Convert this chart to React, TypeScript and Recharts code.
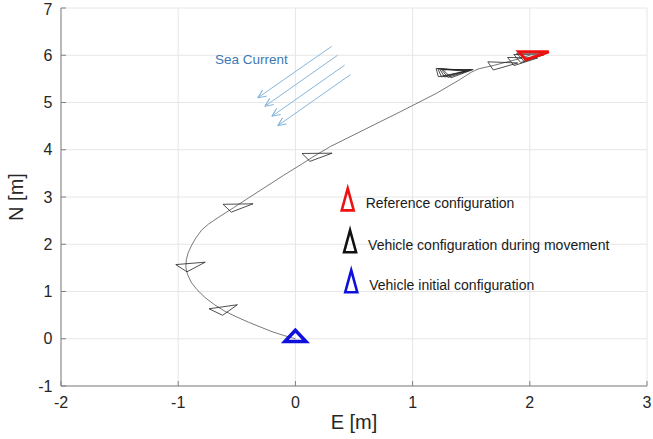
import {
  ComposedChart,
  Line,
  Scatter,
  XAxis,
  YAxis,
  CartesianGrid,
  ReferenceDot,
} from "recharts";

// ---------------------------------------------------------------------------
// Vehicle trajectory in the E/N plane with sea current arrows.
// Values.
// ---------------------------------------------------------------------------

const xTicks = [-2, -1, 0, 1, 2, 3];
const yTicks = [-1, 0, 1, 2, 3, 4, 5, 6, 7];

// travelled path
const pathE = [
  0, -0.1, -0.2, -0.3, -0.4, -0.5, -0.6, -0.69, -0.77, -0.84, -0.89, -0.92,
  -0.935, -0.93, -0.915, -0.885, -0.85, -0.8, -0.74, -0.65, -0.53, -0.4, -0.25,
  -0.1, 0.05, 0.15, 0.3, 0.6, 0.9, 1.2, 1.4, 1.5, 1.56, 1.7, 1.9, 2.0,
];
const pathN = [
  0, 0.07, 0.15, 0.25, 0.35, 0.46, 0.58, 0.72, 0.87, 1.04, 1.2, 1.36,
  1.52, 1.68, 1.82, 1.98, 2.13, 2.3, 2.43, 2.58, 2.77, 2.98, 3.22,
  3.46, 3.69, 3.85, 4.07, 4.44, 4.81, 5.19, 5.48, 5.64, 5.71, 5.79, 5.92, 6.0,
];

// vehicle snapshots during movement (heading in degrees from East)
const moveE = [-0.633, -0.922, -0.527, 0.146, 1.27, 1.29, 1.31, 1.33, 1.35, 1.723, 1.895, 1.95, 1.975];
const moveN = [0.604, 1.525, 2.786, 3.86, 5.64, 5.64, 5.64, 5.635, 5.63, 5.79, 5.886, 5.95, 5.98];
const moveHeading = [40, 32, 23, 22, 6, 10, 14, 18, 22, 15, 18, 19, 20];

const refE = [1.993];
const refN = [6.01];
const refHeading = [20];

const initE = [0];
const initN = [0];
const initHeading = [90];

// sea current arrows (tail -> head)
const currentFromE = [0.31, 0.36, 0.42, 0.47];
const currentFromN = [6.19, 6.0, 5.79, 5.59];
const currentToE = [-0.32, -0.26, -0.2, -0.15];
const currentToN = [5.1, 4.92, 4.71, 4.51];

const legendLabels = [
  "Reference configuration",
  "Vehicle configuration during movement",
  "Vehicle initial configuration",
];
const legendColors = ["#ee1111", "#111111", "#1010dd"];
const legendE = [0.6, 0.62, 0.63];
const legendN = [2.875, 1.99, 1.144];

// vehicle outline (metres, body frame)
const NOSE = 0.18;
const TAIL = 0.06;
const HALF = 0.09;

const W = 653;
const H = 439;
const M = { top: 8, right: 6, left: 0, bottom: 0 };
const Y_AXIS_W = 61;
const X_AXIS_H = 53;
const KX = (W - M.left - M.right - Y_AXIS_W) / 5; // px per metre, E
const KY = (H - M.top - M.bottom - X_AXIS_H) / 8; // px per metre, N
const HEAD = 9;

const FONT = "'Liberation Sans', Arial, Helvetica, sans-serif";

type Pt = { x: number; y: number };

const pathData: Pt[] = pathE.map((x, i) => ({ x, y: pathN[i] }));

function vehicle(e: number, n: number, headingDeg: number): Pt[] {
  const t = (headingDeg * Math.PI) / 180;
  const c = Math.cos(t);
  const s = Math.sin(t);
  return [
    { x: e + NOSE * c, y: n + NOSE * s },
    { x: e - TAIL * c - HALF * s, y: n - TAIL * s + HALF * c },
    { x: e - TAIL * c + HALF * s, y: n - TAIL * s - HALF * c },
  ];
}

function arrow(i: number): Pt[] {
  const s = { x: currentFromE[i], y: currentFromN[i] };
  const t = { x: currentToE[i], y: currentToN[i] };
  const dx = (t.x - s.x) * KX;
  const dy = (t.y - s.y) * KY;
  const len = Math.hypot(dx, dy);
  const ux = dx / len;
  const uy = dy / len;
  const wing = (a: number) => {
    const rx = ux * Math.cos(a) - uy * Math.sin(a);
    const ry = ux * Math.sin(a) + uy * Math.cos(a);
    return { x: t.x - (HEAD * rx) / KX, y: t.y - (HEAD * ry) / KY };
  };
  return [s, t, wing(0.42), t, wing(-0.42)];
}

const legendData = legendLabels.map((label, i) => ({
  x: legendE[i],
  y: legendN[i],
  label,
  color: legendColors[i],
}));

function LegendRow(props: any) {
  const { cx, cy, payload } = props;
  if (cx == null || cy == null) return null;
  const ix = cx - 18;
  const iy = cy - 3.5;
  return (
    <g>
      <path
        d={`M${ix},${iy - 11} L${ix + 6},${iy + 11} L${ix - 6},${iy + 11} Z`}
        fill="none"
        stroke={payload.color}
        strokeWidth={2.6}
        strokeLinejoin="miter"
      />
      <text
        x={cx}
        y={cy}
        dy="0.35em"
        fontSize={14}
        fontFamily={FONT}
        fill="#1a1a1a"
      >
        {payload.label}
      </text>
    </g>
  );
}

const tickStyle = { fontSize: 16, fill: "#262626", fontFamily: FONT };
const AXIS = "#808080";

export default function App() {
  return (
    <div
      style={{
        position: "absolute",
        left: 0,
        top: 0,
        width: W,
        height: H,
        background: "#fff",
      }}
    >
      <ComposedChart width={W} height={H} margin={M} style={{ fontFamily: FONT }}>
        <CartesianGrid stroke="#e6e6e6" strokeWidth={1} />
        <XAxis
          type="number"
          dataKey="x"
          domain={[-2, 3]}
          ticks={xTicks}
          allowDataOverflow
          height={X_AXIS_H}
          stroke={AXIS}
          tickSize={-5}
          tickMargin={16}
          tick={tickStyle}
          label={{
            value: "E [m]",
            position: "insideBottom",
            offset: 10,
            fontSize: 20,
            fill: "#262626",
            fontFamily: FONT,
          }}
        />
        <XAxis
          xAxisId="top"
          orientation="top"
          type="number"
          domain={[-2, 3]}
          ticks={xTicks}
          allowDataOverflow
          height={0}
          stroke={AXIS}
          tickSize={-5}
          tick={false}
        />
        <YAxis
          type="number"
          dataKey="y"
          domain={[-1, 7]}
          ticks={yTicks}
          allowDataOverflow
          width={Y_AXIS_W}
          stroke={AXIS}
          tickSize={-5}
          tickMargin={13.5}
          tick={tickStyle}
          label={{
            value: "N [m]",
            angle: -90,
            position: "insideLeft",
            offset: 16,
            fontSize: 20,
            fill: "#262626",
            fontFamily: FONT,
            style: { textAnchor: "middle" },
          }}
        />
        <YAxis
          yAxisId="right"
          orientation="right"
          type="number"
          domain={[-1, 7]}
          ticks={yTicks}
          allowDataOverflow
          width={0}
          stroke={AXIS}
          tickSize={-5}
          tick={false}
        />

        <Line
          data={pathData}
          dataKey="y"
          type="linear"
          stroke="#555"
          strokeWidth={0.8}
          dot={false}
          activeDot={false}
          isAnimationActive={false}
        />

        {currentFromE.map((_, i) => (
          <Line
            key={`current-${i}`}
            data={arrow(i)}
            dataKey="y"
            type="linear"
            stroke="#86b6dc"
            strokeWidth={1}
            dot={false}
            activeDot={false}
            isAnimationActive={false}
          />
        ))}

        {moveE.map((e, i) => (
          <Line
            key={`move-${i}`}
            data={vehicle(e, moveN[i], moveHeading[i])}
            dataKey="y"
            type="linearClosed"
            stroke="#222"
            strokeWidth={0.8}
            fill="none"
            dot={false}
            activeDot={false}
            isAnimationActive={false}
          />
        ))}

        {refE.map((e, i) => (
          <Line
            key={`ref-${i}`}
            data={vehicle(e, refN[i], refHeading[i])}
            dataKey="y"
            type="linearClosed"
            stroke="#ee1111"
            strokeWidth={3}
            strokeLinejoin="miter"
            dot={false}
            activeDot={false}
            isAnimationActive={false}
          />
        ))}

        {initE.map((e, i) => (
          <Line
            key={`init-${i}`}
            data={vehicle(e, initN[i], initHeading[i])}
            dataKey="y"
            type="linearClosed"
            stroke="#1010dd"
            strokeWidth={3.5}
            strokeLinejoin="miter"
            dot={false}
            activeDot={false}
            isAnimationActive={false}
          />
        ))}

        <ReferenceDot
          x={-0.376}
          y={5.91}
          r={0}
          stroke="none"
          label={{
            value: "Sea Current",
            position: "center",
            fontSize: 13.5,
            fill: "#3d78b4",
            fontFamily: FONT,
          }}
        />

        <Scatter
          data={legendData}
          dataKey="y"
          shape={LegendRow}
          isAnimationActive={false}
        />
      </ComposedChart>
    </div>
  );
}
